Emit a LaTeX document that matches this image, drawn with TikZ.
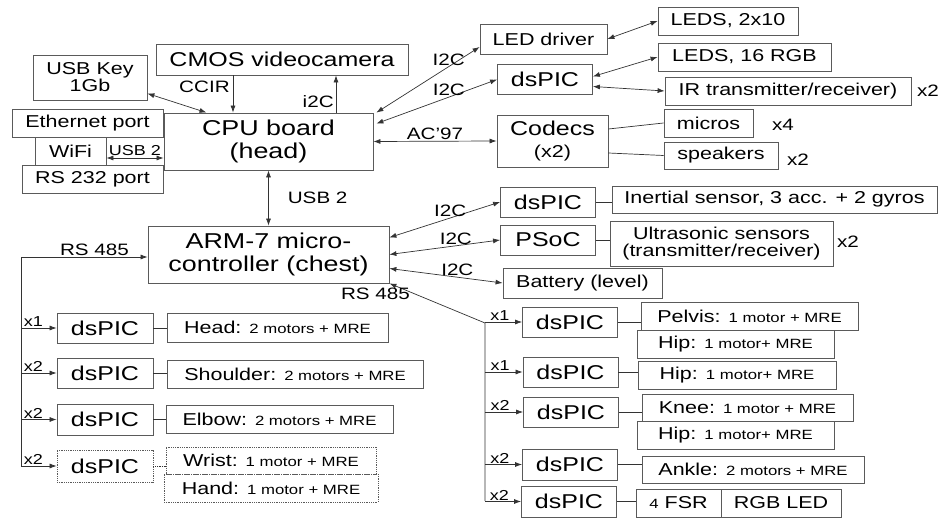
\documentclass[tikz,border=0pt]{standalone}
\usepackage{fontspec}
\usepackage{tikz}
\usetikzlibrary{arrows.meta}
\setmainfont[FakeStretch=1.25]{Liberation Sans}
\definecolor{boxgray}{HTML}{5A5A5A}
\definecolor{wiregray}{HTML}{333333}
\newcommand{\mtr}[1]{{\fontsize{13.4}{14}\selectfont #1}}

\begin{document}
\begin{tikzpicture}[
      x=1pt,y=-1pt,
      >={Latex[length=7pt,width=5pt]},
      unit/.style={draw=boxgray,line width=0.8pt,inner sep=1pt,align=center,font=\fontsize{17.2}{17}\selectfont},
      mcu/.style={unit,minimum width=95,minimum height=30,font=\fontsize{20}{20}\selectfont},
      board/.style={unit,font=\fontsize{21.5}{22.5}\selectfont},
      wire/.style={draw=wiregray,line width=0.7pt},
      lbl/.style={font=\fontsize{16.5}{16}\selectfont,inner sep=1pt},
      mult/.style={font=\fontsize{14.4}{14}\selectfont,inner sep=1pt},
      dotbox/.style={densely dotted}
    ]
    \useasboundingbox (0,0) rectangle (946,518);

    % head
    \node[unit,minimum width=114,minimum height=45] (usbkey) at (90,77.5) {USB Key\\1Gb};
    \node[unit,minimum width=252,minimum height=31,font=\fontsize{20}{20}\selectfont] (cmos) at (282,59.5) {CMOS videocamera};
    \node[board,minimum width=209,minimum height=57] (cpu) at (268.5,141.5) {CPU board\\(head)};
    \node[unit,minimum width=151,minimum height=28] (eth) at (87.5,123) {Ethernet port};
    \node[unit,minimum width=71,minimum height=28] (wifi) at (70.5,151) {WiFi};
    \node[unit,minimum width=141,minimum height=28] (rs232) at (92.5,179) {RS 232 port};

    \node[unit,minimum width=127,minimum height=30] (leddrv) at (543.5,39) {LED driver};
    \node[unit,minimum width=140,minimum height=28] (leds10) at (728,21) {LEDS, 2x10};
    \node[mcu] (dspicA) at (545,79.5) {dsPIC};
    \node[unit,minimum width=173,minimum height=28] (leds16) at (744.5,57) {LEDS, 16 RGB};
    \node[unit,minimum width=246,minimum height=28] (ir) at (788,91) {IR transmitter/receiver)};
    \node[lbl] (irx) at (928,91) {x2};
    \node[unit,minimum width=111,minimum height=52,font=\fontsize{20}{22}\selectfont] (codecs) at (552.5,141) {Codecs\\{\fontsize{17.2}{17}\selectfont (x2)}};
    \node[unit,minimum width=89,minimum height=28] (micros) at (708.5,123) {micros};
    \node[lbl] (microsx) at (783,125) {x4};
    \node[unit,minimum width=114,minimum height=27] (speakers) at (721,155.5) {speakers};
    \node[lbl] (speakersx) at (798,160) {x2};

    % chest
    \node[board,minimum width=241,minimum height=57] (arm) at (268.5,254.5) {ARM-7 micro-\\controller (chest)};
    \node[mcu] (dspicI) at (548,202) {dsPIC};
    \node[unit,minimum width=325,minimum height=27] (inertial) at (774.5,199.5) {Inertial sensor, 3 acc. + 2 gyros};
    \node[mcu] (psoc) at (548,240) {PSoC};
    \node[unit,minimum width=223,minimum height=45] (ultra) at (721.5,243.5) {Ultrasonic sensors\\(transmitter/receiver)};
    \node[lbl] (ultrax) at (848,242) {x2};
    \node[unit,minimum width=159,minimum height=30] (battery) at (582.5,283) {Battery (level)};

    % arms
    \node[mcu,minimum width=96] (dspicH) at (105,328) {dsPIC};
    \node[unit,minimum width=221,minimum height=29] (head) at (277.5,327.5) {Head: \mtr{2 motors + MRE}};
    \node[mcu,minimum width=96] (dspicS) at (105,373) {dsPIC};
    \node[unit,minimum width=256,minimum height=28] (shoulder) at (295,374) {Shoulder: \mtr{2 motors + MRE}};
    \node[mcu,minimum width=96,minimum height=31] (dspicE) at (105,419.5) {dsPIC};
    \node[unit,minimum width=227,minimum height=28] (elbow) at (279.5,419) {Elbow: \mtr{2 motors + MRE}};
    \node[mcu,minimum width=96,minimum height=32,dotbox] (dspicW) at (105,466) {dsPIC};
    \node[unit,minimum width=210,minimum height=27,dotbox] (wrist) at (271,460.5) {Wrist: \mtr{1 motor + MRE}};
    \node[unit,minimum width=214,minimum height=28,dotbox] (hand) at (271,488) {Hand: \mtr{1 motor + MRE}};

    % legs
    \node[mcu] (dspicP) at (570,322) {dsPIC};
    \node[unit,minimum width=217,minimum height=28] (pelvis) at (749.5,316) {Pelvis: \mtr{1 motor + MRE}};
    \node[unit,minimum width=197,minimum height=28] (hip1) at (735.5,344) {Hip: \mtr{1 motor+ MRE}};
    \node[mcu] (dspicHp) at (570.5,372) {dsPIC};
    \node[unit,minimum width=198,minimum height=28] (hip2) at (737,375) {Hip: \mtr{1 motor+ MRE}};
    \node[mcu] (dspicK) at (571,412) {dsPIC};
    \node[unit,minimum width=211,minimum height=27] (knee) at (747.5,407.5) {Knee: \mtr{1 motor + MRE}};
    \node[unit,minimum width=197,minimum height=28] (hip3) at (735.5,435) {Hip: \mtr{1 motor+ MRE}};
    \node[mcu,minimum height=31] (dspicAn) at (570,464.5) {dsPIC};
    \node[unit,minimum width=222,minimum height=27] (ankle) at (753,469.5) {Ankle: \mtr{2 motors + MRE}};
    \node[mcu,minimum height=31] (dspicF) at (569,501.5) {dsPIC};
    \node[unit,minimum width=85,minimum height=28] (fsr) at (678.5,503) {\mtr{4} FSR};
    \node[unit,minimum width=120,minimum height=28] (rgb) at (781,503) {RGB LED};

    \coordinate (lbus) at (21,257);
    \coordinate (lbusend) at (21,466);
    \coordinate (rbus) at (485,323);
    \coordinate (rbusend) at (485,501);
    \coordinate (ccir) at ([xshift=-35.5]cpu.north);
    \coordinate (camctl) at ([xshift=67.5]cpu.north);
    \coordinate (wifiusb) at ([yshift=-7]wifi.east);

    % head links
    \draw[wire,<->] ([yshift=-16]usbkey.east) -- ([xshift=-62]cpu.north);
    \draw[wire,->] (ccir |- cmos.south) -- node[lbl,pos=0.3,left=2pt]{CCIR} (ccir);
    \draw[wire,->] (camctl) -- node[lbl,pos=0.3,left=1pt]{i2C} (camctl |- cmos.south);
    \draw[wire,<->] (wifiusb) -- node[mult,above=1pt]{USB 2} (wifiusb -| cpu.west);
    \draw[wire,<->] ([xshift=3]cpu.north east) -- node[lbl,pos=0.7,above]{I2C} ([yshift=-8]leddrv.west);
    \draw[wire,<->] ([xshift=3,yshift=-11]cpu.north east) -- node[lbl,pos=0.6,above]{I2C} (dspicA.west);
    \draw[wire,<->] (cpu.east) -- node[lbl,above]{AC'97} (codecs.west);
    \draw[wire,<->] (leddrv.east) -- (leds10.west);
    \draw[wire,<->] ([yshift=3]dspicA.east) -- (leds16.west);
    \draw[wire,<->] ([yshift=-7]dspicA.east) -- (ir.west);
    \draw[wire] ([yshift=12]codecs.east) -- (micros.west);
    \draw[wire] ([yshift=-12]codecs.east) -- (speakers.west);
    \draw[wire,<->] (cpu.south) -- node[lbl,right=18pt]{USB 2} (arm.north);

    % chest links
    \draw[wire,<->] ([yshift=17]arm.east) -- node[lbl,pos=0.55,above]{I2C} (dspicI.west);
    \draw[wire,<->] (arm.east) -- node[lbl,pos=0.6,above]{I2C} (psoc.west);
    \draw[wire,<->] ([yshift=-14]arm.east) -- node[lbl,pos=0.6,above]{I2C} (battery.west);
    \draw[wire] (dspicI.east) -- (dspicI.east -| inertial.west);
    \draw[wire] (psoc.east) -- (psoc.east -| ultra.west);

    % RS 485 buses
    \draw[wire,->] (lbusend) -- (lbus) -- node[lbl,pos=0.58,above]{RS 485} (lbus -| arm.west);
    \foreach \n/\m in {dspicH/x1,dspicS/x2,dspicE/x2,dspicW/x2}
      \draw[wire,->] (lbus |- \n.west) -- node[mult,pos=0.35,above]{\m} (\n.west);
    \draw[wire,->] (rbusend) -- (rbus) -- node[lbl,at end,below=3pt,xshift=-14]{RS 485} (arm.south east);
    \foreach \n/\m in {dspicP/x1,dspicHp/x1,dspicK/x2,dspicAn/x2,dspicF/x2}
      \draw[wire,->] (rbus |- \n.west) -- node[mult,pos=0.4,above]{\m} (\n.west);

    \foreach \a/\b in {dspicH/head,dspicS/shoulder,dspicE/elbow,dspicP/pelvis,dspicHp/hip2,dspicK/knee,dspicAn/ankle,dspicF/fsr}
      \draw[wire] (\a.east) -- (\a.east -| \b.west);
    \draw[wire,dotbox] (dspicW.east) -- (dspicW.east -| wrist.west);
  \end{tikzpicture}
\end{document}
